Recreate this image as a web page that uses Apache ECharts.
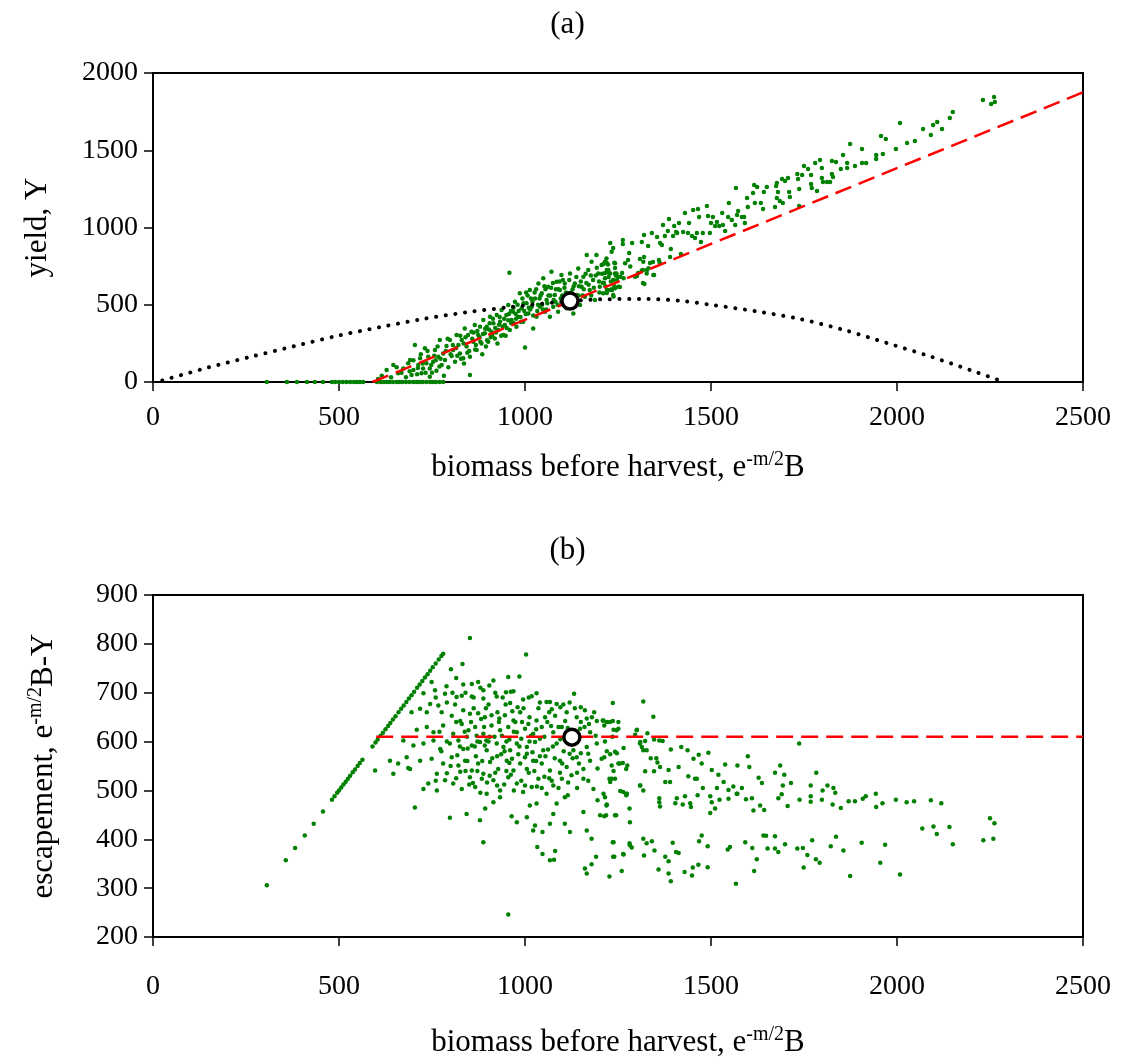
<!DOCTYPE html>
<html>
<head>
<meta charset="utf-8">
<script src="https://cdn.jsdelivr.net/npm/echarts@6/dist/echarts.min.js"></script>
<style>
  html, body { margin: 0; padding: 0; background: #fff; }
  #chart { width: 1135px; height: 1063px; }
</style>
</head>
<body>
<div id="chart"></div>
<script>
// panel (a): yield vs biomass before harvest
const yieldPoints = [
  [306,0],[360,0],[387,0],[414,0],[435,0],[457,0],[481,0],[490,0],[500,0],[510,0],[520,0],[530,0],[540,0],[548,0],[556,0],[565,0],
  [602,0],[612,0],[620,0],[628,0],[636,0],[645,0],[655,0],[662,0],[670,0],[680,0],[690,0],[700,0],[708,0],[716,0],[725,0],[735,0],[745,0],[752,0],[760,0],[770,0],[780,0],
  [628,77],[646,110],[659,56],[673,88],[686,121],[691,142],[695,45],[700,77],[704,239],[713,110],[718,153],[722,56],[726,88],[731,218],[735,121],[740,164],[744,34],[744,88],
  [753,131],[758,207],[762,73],[767,164],[771,272],[776,110],[780,185],[785,142],[789,233],[794,95],[798,272],[803,168],[807,207],[812,131],[816,304],[821,239],[825,185],
  [830,272],[834,153],[838,347],[843,229],[847,304],[852,45],[852,164],[856,326],[861,261],[865,369],[870,207],[874,304],[879,358],[883,250],[888,401],[892,315],[897,358],
  [901,261],[906,423],[910,326],[915,380],[919,282],[924,433],[928,336],[933,390],[937,466],[942,304],[946,369],[950,433],[955,498],[958,707],[959,336],[964,401],[968,455],
  [973,520],[977,358],[982,423],[986,574],[991,477],[995,390],[1000,224],[1004,509],[1009,444],[1013,595],[1018,487],[1022,347],[1027,541],[1031,423],[1036,638],[1040,487],
  [1045,574],[1049,671],[1054,455],[1058,530],[1062,617],[1067,423],[1071,714],[1076,487],[1080,563],[1085,649],[1089,455],[1094,595],[1098,692],[1103,520],[1107,638],
  [1112,477],[1116,574],[1121,703],[1125,509],[1130,444],[1134,638],[1139,563],[1143,735],[1148,498],[1152,617],[1157,681],[1161,552],[1166,822],[1170,725],[1174,595],
  [1179,779],[1183,660],[1188,530],[1192,822],[1197,703],[1201,617],[1206,757],[1210,574],[1215,671],[1219,800],[1224,725],[1228,595],[1233,843],[1237,660],[1242,768],[1246,703],
  [800,180],[815,220],[828,150],[840,290],[850,200],[862,320],[868,240],[878,290],[885,180],[893,345],[898,270],[905,380],[912,300],[920,350],[926,250],[932,420],[940,360],
  [948,300],[955,400],[962,460],[970,380],[975,440],[980,500],[988,420],[993,540],[998,460],[1003,580],[1010,480],[1016,540],[1022,430],[1030,600],[1035,500],[1042,560],
  [1048,470],[1055,600],[1060,510],[1068,560],[1075,640],[1082,520],[1090,600],[1096,540],[1102,660],[1110,580],[1118,540],[1128,600],[1136,520],[1145,620],[1155,560],
  [1165,640],[1178,560],[1190,690],[1200,580],[1212,640],[1225,680],[1240,620],
  [835,250],[845,190],[858,280],[866,210],[872,330],[880,260],[887,310],[895,230],[903,340],[908,290],[914,410],[922,320],[930,370],[936,300],[944,410],[951,350],
  [957,440],[963,380],[969,480],[976,410],[983,460],[989,390],[996,510],[1002,440],[1007,560],[1014,470],[1020,520],[1026,580],[1033,460],[1039,540],[1046,500],
  [1052,620],[1057,470],[1063,560],[1070,610],[1077,530],[1083,600],[1088,500],[1093,650],[1100,560],[1106,610],[1113,520],[1119,660],[1124,580],[1131,620],[1138,680],
  [1144,560],[1150,650],[1158,600],[1163,700],[1171,630],[1177,690],[1185,610],[1193,740],[1199,650],[1207,700],[1216,620],[1223,760],[1231,650],[1244,690],
  [700,140],[712,90],[720,180],[733,60],[738,200],[748,110],[756,170],[765,230],[773,150],[787,200],[792,280],[806,240],[818,170],[826,300],[836,120],
  [605,20],[615,40],[640,30],[655,95],[668,60],[680,30],[690,70],[710,50],[725,120],[750,60],[760,140],[770,100],[782,40],
  [1211,764],[1215,779],[1220,725],[1229,703],[1209,643],[1220,596],[1233,600],[1242,607],[1251,617],[1238,553],[1256,682],[1265,671],[1242,703],[1240,772],[1269,768],
  [1283,747],[1296,682],[1301,686],[1314,721],[1318,779],[1327,703],[1345,693],[1321,634],[1332,736],[1362,772],
  [2231,1825],[2253,1799],[2261,1845],[2263,1812],[2150,1748],[2142,1709],[2121,1637],[2108,1683],[2097,1663],[2091,1599],[2070,1637],[2048,1560],[2027,1547],[2008,1676],
  [1997,1508],[1970,1573],[1957,1592],[1962,1476],[1944,1443],[1944,1469],[1917,1417],[1906,1417],[1906,1508],[1887,1398],[1874,1540],[1866,1385],[1866,1417],[1855,1469],
  [1849,1379],[1836,1424],[1825,1430],[1828,1327],[1825,1346],[1820,1294],[1812,1294],[1801,1294],[1798,1320],[1798,1385],[1793,1437],[1785,1236],[1780,1417],[1771,1256],
  [1769,1282],[1769,1340],[1761,1379],[1750,1398],[1745,1340],[1737,1249],[1734,1314],[1732,1346],[1737,1139],[1712,1197],[1710,1230],[1707,1320],[1699,1301],[1691,1314],
  [1685,1171],[1693,1158],[1680,1230],[1677,1288],[1672,1133],[1677,1191],[1675,1269],[1650,1262],[1642,1230],[1640,1120],[1634,1158],[1624,1262],[1618,1158],[1616,1275],
  [1613,1223],[1599,1133],[1597,1191],[1591,1029],[1589,1068],[1583,1068],[1573,1107],[1570,1081],[1567,1256],[1565,1016],[1556,1049],[1548,1158],[1546,1068],[1538,977],
  [1532,1016],[1530,1094],[1522,1010],[1516,1036],[1511,1010],[1505,1068],[1500,1029],[1497,964],[1492,1075],[1489,1139],[1478,964],[1473,906],[1468,1068],[1465,1120],
  [1462,964],[1457,932],[1452,1113],[1449,945],[1441,1029],[1438,964],[1430,1094],[1425,971],[1419,828],[1414,1029],[1409,964],[1406,971],[1401,1010],[1398,945],[1392,861],
  [1387,1055],[1390,809],[1384,977],[1376,945],[1371,1016],[1368,887],[1363,900],[1360,790],[1355,939],[1347,693],[1344,777],[1341,964],[1336,770],[1331,880],[1328,725],
  [1320,809],[1320,951],[1317,641],[1317,725],[1314,906],[1309,796],[1304,706],[1298,686],[1288,900],[1280,835],[1277,790],[1263,893],[1263,919],[1261,706],[1255,615],
  [1250,680],[1247,660],[1242,738],[1237,563],[1237,867],[1234,595],[1229,900],[1226,706],[1220,770],[1220,576],[1215,706]
]
const yieldRefX = [590, 2500]
const yieldRefY = [0, 1875]
const curveX = [25, 150, 261, 380, 494, 610, 726, 840, 960, 1080, 1200, 1330, 1420, 1505, 1620, 1739, 1860, 1973, 2090, 2204, 2282]
const curveY = [10, 95, 162, 232, 298, 355, 408, 450, 485, 515, 535, 537, 525, 498, 458, 408, 335, 252, 165, 71, 5]
const optimumA = [1121, 524]

// panel (b): escapement vs biomass before harvest
const escapementPoints = [
  [306,306],[357,357],[382,382],[408,408],[432,432],[457,457],[481,481],[488,488],[495,495],[500,500],[506,506],[512,512],[518,518],[524,524],[530,530],[537,537],
  [543,543],[550,550],[556,556],[563,563],[590,590],[598,598],[604,604],[612,612],[618,618],[625,625],[632,632],[638,638],[645,645],[652,652],[660,660],[667,667],
  [674,674],[681,681],[688,688],[695,695],[702,702],[710,710],[717,717],[724,724],[731,731],[738,738],[745,745],[752,752],[760,760],[768,768],[775,775],[780,780],
  [852,812],[1003,778],[832,759],[801,748],[955,732],[985,733],[749,722],[815,730],[857,718],[874,722],[915,725],[904,715],[789,713],[834,717],[888,705],[949,701],
  [969,703],[1031,699],[1018,693],[1132,698],[1236,679],[727,699],[758,705],[785,698],[816,691],[830,694],[857,692],[888,688],[924,692],[960,679],[995,686],[1058,681],
  [1067,681],[1085,677],[1103,676],[1161,664],[1193,642],[1211,643],[1228,640],[1251,640],[745,677],[767,674],[695,660],[718,667],[736,660],[776,660],[803,653],[834,664],
  [852,657],[874,658],[892,650],[910,654],[931,647],[946,654],[969,643],[987,660],[1009,636],[1031,643],[1054,650],[1081,653],[1112,660],[1139,650],[1166,647],[709,624],
  [736,630],[754,619],[780,633],[807,616],[830,636],[848,623],[866,630],[888,616],[910,633],[933,623],[955,630],[978,619],[1000,626],[1022,616],[1045,630],[1076,619],
  [1099,630],[1148,626],[1175,619],[1246,623],[1300,623],[673,602],[700,592],[727,596],[754,602],[772,585],[798,596],[821,602],[834,585],[857,592],[879,599],[897,582],
  [924,596],[942,589],[960,582],[978,596],[1005,589],[1027,599],[1049,582],[1085,596],[1130,582],[1166,589],[1193,596],[1242,579],[1318,582],[637,561],[659,555],[682,568],
  [691,544],[718,561],[749,565],[763,534],[780,555],[803,568],[821,551],[839,561],[857,541],[874,555],[888,534],[906,558],[928,544],[951,561],[969,541],[987,555],[1005,544],
  [1022,561],[1045,555],[1067,541],[1094,561],[1112,548],[1139,568],[1157,544],[1175,561],[1206,565],[1233,551],[1255,555],[1309,596],[597,541],[646,534],[686,546],
  [727,503],[740,514],[763,500],[785,521],[807,514],[830,503],[852,527],[866,507],[884,524],[897,493],[915,521],[933,500],[955,527],[978,514],[995,497],[1018,507],
  [1036,524],[1058,493],[1076,510],[1099,524],[1125,531],[1157,524],[1184,503],[1211,493],[1233,524],[1264,497],[1309,510],[704,465],[798,444],[843,452],[879,439],
  [893,463],[915,476],[933,486],[964,447],[978,435],[1005,445],[1013,469],[1031,473],[1027,428],[1047,415],[1022,418],[1067,432],[1076,452],[1085,473],[1107,486],
  [1107,432],[1121,415],[1157,456],[1166,418],[1179,401],[1202,449],[1219,469],[1242,449],[1273,493],[1282,435],[888,394],[1033,384],[1047,370],[1067,357],[1081,376],
  [1078,358],[1161,340],[1166,330],[1179,349],[1191,364],[1227,324],[1237,364],[1236,394],[1260,335],[1264,370],[1282,388],[955,246],
  [812,676],[826,642],[844,610],[862,668],[870,612],[882,646],[896,602],[902,676],[918,610],[926,660],[938,612],[948,676],[958,604],[966,662],[974,640],[990,606],
  [996,668],[1012,650],[1016,612],[1036,668],[1040,606],[1060,640],[1072,666],[1090,630],[1108,642],[1120,612],[1134,668],[1150,640],[1172,636],[1186,660],
  [818,572],[846,586],[868,570],[892,592],[912,566],[936,574],[958,556],[982,574],[1000,568],[1020,578],[1040,570],[1062,584],[1080,566],[1104,580],[1128,566],[1150,576],
  [826,538],[850,512],[872,540],[898,516],[920,536],[944,512],[962,532],[990,520],[1010,536],[1032,508],[1052,528],[1072,520],[1094,536],[1116,516],[1140,536],
  [760,690],[790,680],[805,700],[840,700],[862,690],[880,710],[895,668],[920,700],[940,690],[962,702],[980,670],[1010,690],[1040,680],[1065,660],[1095,670],[1120,680],
  [1150,670],[1180,650],[770,620],[790,600],[815,640],[838,620],[855,640],[872,600],[890,630],[905,610],[930,640],[950,600],[970,620],[992,640],[1012,600],[1030,625],
  [1052,610],[1070,632],[1095,605],[1115,628],[1140,600],[1160,630],[1190,612],[1215,600],[1235,610],[775,580],[800,550],[825,590],[845,560],[865,590],[885,560],
  [902,600],[925,570],[945,580],[965,565],[985,590],[1005,575],[1030,560],[1055,570],[1075,590],[1100,555],[1120,575],[1145,555],[1170,575],[1195,545],[1220,580],
  [760,520],[790,535],[815,525],[840,540],[860,515],[880,495],[905,530],[925,510],[950,540],[970,500],[1000,510],[1025,540],[1045,505],[1065,525],[1090,505],[1115,490],
  [1140,505],[1170,520],[1195,480],
  [1318,682],[1345,651],[1209,643],[1220,640],[1236,642],[1213,633],[1238,624],[1251,626],[1301,624],[1329,617],[1296,614],[1310,599],[1323,601],[1361,602],
  [1370,601],[1347,604],[1737,596],[1314,589],[1327,582],[1265,587],[1213,568],[1229,574],[1247,576],[1338,566],[1353,566],[1356,557],[1392,584],[1420,589],[1437,582],
  [1453,565],[1467,573],[1475,555],[1493,577],[1251,555],[1263,556],[1275,551],[1272,544],[1363,548],[1386,542],[1413,548],[1347,539],[1323,539],[1439,529],[1457,524],
  [1462,524],[1502,542],[1520,532],[1538,553],[1571,551],[1603,548],[1599,570],[1238,540],[1242,524],[1229,517],[1227,524],[1310,510],[1318,500],[1377,517],[1390,517],
  [1478,505],[1516,505],[1534,517],[1547,501],[1560,508],[1569,493],[1583,505],[1628,526],[1637,515],[1672,536],[1686,551],[1697,532],[1693,510],[1715,515],[1768,510],
  [1783,536],[1800,500],[1813,510],[1829,505],[1834,495],[1215,486],[1220,471],[1274,493],[1272,490],[1281,463],[1256,499],[1245,449],[1218,449],[1213,447],[1361,484],
  [1361,476],[1363,467],[1408,484],[1404,474],[1424,471],[1430,488],[1444,474],[1446,466],[1464,490],[1498,488],[1502,476],[1511,463],[1498,454],[1523,481],[1547,483],
  [1571,493],[1594,482],[1610,484],[1614,459],[1632,469],[1643,460],[1681,484],[1690,492],[1706,468],[1738,481],[1768,488],[1768,477],[1798,481],[1827,471],[1849,464],
  [1870,478],[1887,478],[1908,483],[1916,488],[1943,493],[1944,466],[1961,474],[1997,481],[2026,476],[2046,478],[2091,480],[2119,474],[2141,425],[2150,390],[2098,426],
  [2107,411],[2068,422],[2250,443],[2262,433],[2232,398],[2259,401],[1238,394],[1281,392],[1287,383],[1240,364],[1265,369],[1318,401],[1327,392],[1341,396],[1348,377],
  [1320,367],[1377,364],[1386,355],[1359,338],[1386,330],[1392,314],[1397,393],[1413,372],[1406,374],[1429,333],[1449,326],[1451,342],[1466,348],[1468,396],[1475,408],
  [1491,386],[1491,343],[1545,379],[1551,384],[1567,309],[1592,394],[1611,382],[1616,335],[1623,359],[1641,408],[1648,407],[1652,381],[1672,406],[1672,381],[1681,374],
  [1699,390],[1732,381],[1747,382],[1749,342],[1759,368],[1772,398],[1782,359],[1792,352],[1822,386],[1836,405],[1856,377],[1874,325],[1905,393],[1955,352],[1968,389],[2008,328]
]
const escRefX = [600, 2500]
const escRefY = [610, 610]
const optimumB = [1126, 609]

const xTicks = { min: 0, max: 2500, interval: 500 }
const yTicksA = { min: 0, max: 2000, interval: 500 }
const yTicksB = { min: 200, max: 900, interval: 100 }

const serif = '"Liberation Serif", "Times New Roman", serif'
const tickSize = 28
const nameSize = 31
const green = '#008000'

const chart = echarts.init(document.getElementById('chart'), null, { renderer: 'canvas' })

const nameStyle = {
  fontFamily: serif, fontSize: nameSize, color: '#000', lineHeight: 35,
  rich: { sup: { fontFamily: serif, fontSize: 20, color: '#000', verticalAlign: 'top', lineHeight: 20 } }
}
const plain = v => String(v)

const makeX = (gridIndex, labelMargin, nameGap) => ({
  type: 'value', gridIndex, ...xTicks,
  name: 'biomass before harvest, e{sup|-m/2}B',
  nameLocation: 'middle', nameGap, nameTextStyle: nameStyle,
  axisLine: { show: true, onZero: false, lineStyle: { color: '#000', width: 2 } },
  axisTick: { show: true, inside: false, length: 9, lineStyle: { color: '#000', width: 1.5 } },
  axisLabel: { fontFamily: serif, fontSize: tickSize, color: '#000', margin: labelMargin, formatter: plain },
  splitLine: { show: false }
})

const makeY = (gridIndex, ticks, name, nameGap) => ({
  type: 'value', gridIndex, ...ticks,
  name, nameLocation: 'middle', nameGap, nameTextStyle: nameStyle,
  axisLine: { show: true, onZero: false, lineStyle: { color: '#000', width: 2 } },
  axisTick: { show: true, inside: false, length: 9, lineStyle: { color: '#000', width: 1.5 } },
  axisLabel: { fontFamily: serif, fontSize: tickSize, color: '#000', margin: 15, formatter: plain },
  splitLine: { show: false }
})

const zip = (xs, ys) => xs.map((x, i) => [x, ys[i]])

const option = {
  backgroundColor: '#fff',
  animation: false,
  title: [
    { text: '(a)', left: 'center', top: 4, textStyle: { fontFamily: serif, fontSize: nameSize, fontWeight: 'normal', color: '#000' } },
    { text: '(b)', left: 'center', top: 530, textStyle: { fontFamily: serif, fontSize: nameSize, fontWeight: 'normal', color: '#000' } }
  ],
  grid: [
    { left: 153, top: 73, width: 930, height: 309, show: true, borderColor: '#000', borderWidth: 2, backgroundColor: 'transparent' },
    { left: 153, top: 595, width: 930, height: 342, show: true, borderColor: '#000', borderWidth: 2, backgroundColor: 'transparent' }
  ],
  xAxis: [makeX(0, 22, 68), makeX(1, 36, 88)],
  yAxis: [makeY(0, yTicksA, 'yield, Y', 98), makeY(1, yTicksB, 'escapement, e{sup|-m/2}B-Y', 92)],
  series: [
    {
      type: 'scatter', xAxisIndex: 0, yAxisIndex: 0, data: yieldPoints,
      symbolSize: 4.5, itemStyle: { color: green, opacity: 1 }, z: 2
    },
    {
      type: 'line', xAxisIndex: 0, yAxisIndex: 0, data: zip(yieldRefX, yieldRefY),
      showSymbol: false, lineStyle: { color: '#ff0000', width: 2.5, type: [17, 8] }, z: 3
    },
    {
      type: 'line', xAxisIndex: 0, yAxisIndex: 0, data: zip(curveX, curveY), smooth: 0.3,
      showSymbol: false, lineStyle: { color: '#000', width: 4, type: [0.1, 9.6], cap: 'round' }, z: 3
    },
    {
      type: 'scatter', xAxisIndex: 0, yAxisIndex: 0, data: [optimumA],
      symbolSize: 16, itemStyle: { color: '#fff', borderColor: '#000', borderWidth: 3.5, opacity: 1 }, z: 5
    },
    {
      type: 'scatter', xAxisIndex: 1, yAxisIndex: 1, data: escapementPoints,
      symbolSize: 4.5, itemStyle: { color: green, opacity: 1 }, z: 2
    },
    {
      type: 'line', xAxisIndex: 1, yAxisIndex: 1, data: zip(escRefX, escRefY),
      showSymbol: false, lineStyle: { color: '#ff0000', width: 2.5, type: [17, 8] }, z: 3
    },
    {
      type: 'scatter', xAxisIndex: 1, yAxisIndex: 1, data: [optimumB],
      symbolSize: 16, itemStyle: { color: '#fff', borderColor: '#000', borderWidth: 3.5, opacity: 1 }, z: 5
    }
  ]
}

chart.setOption(option)
</script>
</body>
</html>
